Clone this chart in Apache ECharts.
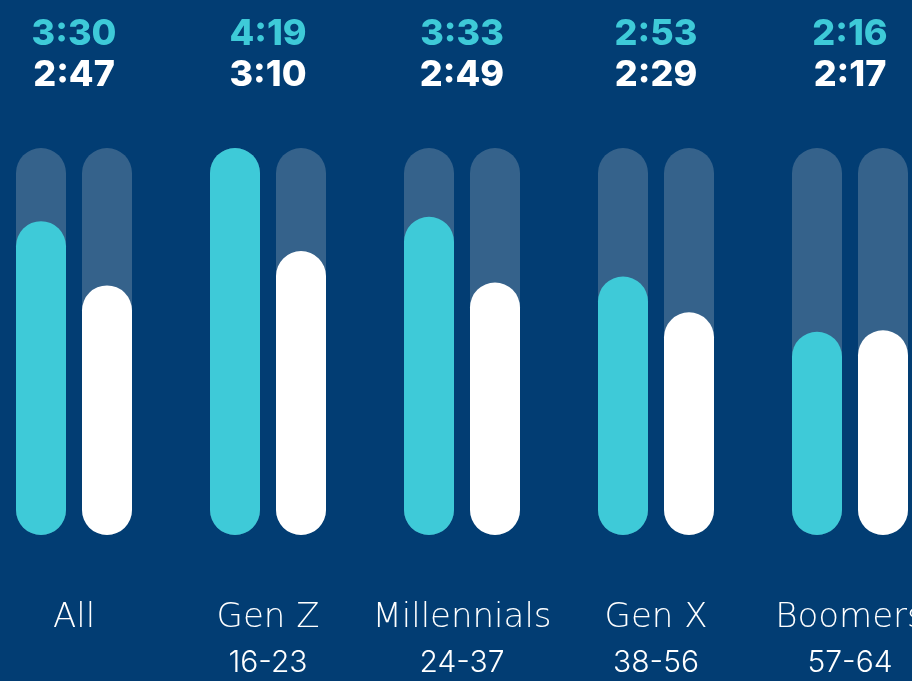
<!DOCTYPE html>
<html>
<head>
<meta charset="utf-8">
<script src="https://cdn.jsdelivr.net/npm/echarts@6/dist/echarts.min.js"></script>
<style>html,body{margin:0;padding:0;background:#023d73;overflow:hidden;width:912px;height:681px;}#c{position:absolute;left:-23px;top:0;width:970px;height:681px;}</style>
</head>
<body>
<div id="c"></div>
<script>
const groups = ['All', 'Gen Z', 'Millennials', 'Gen X', 'Boomers'];
const ages = ['', '16-23', '24-37', '38-56', '57-64'];
// time in minutes (h:mm)
const cyanValues = [210, 259, 213, 173, 136];
const whiteValues = [167, 190, 169, 149, 137];
const yMax = 259;

function fmt(m) { const h = Math.floor(m / 60), mm = m % 60; return h + ':' + (mm < 10 ? '0' : '') + mm; }

const chart = echarts.init(document.getElementById('c'));
const font = 'Inter, "Noto Sans", sans-serif';
const nameFont = '"DejaVu Sans", Inter, sans-serif';
chart.setOption({
  backgroundColor: '#023d73',
  animation: false,
  grid: { left: 0, right: 0, top: 148, bottom: 146 },
  xAxis: [{
    type: 'category', data: groups, position: 'bottom',
    axisLine: { show: false }, axisTick: { show: false },
    axisLabel: {
      interval: 0, margin: 60,
      formatter: (v, i) => '{n|' + v + '}' + (ages[i] ? '\n{a|' + ages[i] + '}' : ''),
      rich: {
        n: { fontFamily: nameFont, fontSize: 34, fontWeight: 300, color: '#ffffff', lineHeight: 47 },
        a: { fontFamily: font, fontSize: 30, fontWeight: 300, color: '#ffffff', lineHeight: 41 }
      }
    }
  }, {
    type: 'category', data: groups, position: 'top',
    axisLine: { show: false }, axisTick: { show: false },
    axisLabel: {
      interval: 0, margin: 52,
      formatter: (v, i) => '{c|' + fmt(cyanValues[i]) + '}\n{w|' + fmt(whiteValues[i]) + '}',
      rich: {
        c: { fontFamily: font, fontSize: 36, fontWeight: 800, color: '#3ecad8', lineHeight: 41 },
        w: { fontFamily: font, fontSize: 36, fontWeight: 800, color: '#ffffff', lineHeight: 41 }
      }
    }
  }],
  yAxis: { type: 'value', min: 0, max: yMax, show: false, splitLine: { show: false } },
  series: [{
    type: 'bar', data: cyanValues, barWidth: 50, barGap: '32%',
    itemStyle: { color: '#3ecad8', borderRadius: 25 },
    showBackground: true,
    backgroundStyle: { color: '#35628b', borderRadius: 25 }
  }, {
    type: 'bar', data: whiteValues, barWidth: 50,
    itemStyle: { color: '#ffffff', borderRadius: 25 },
    showBackground: true,
    backgroundStyle: { color: '#35628b', borderRadius: 25 }
  }]
});
</script>
</body>
</html>
